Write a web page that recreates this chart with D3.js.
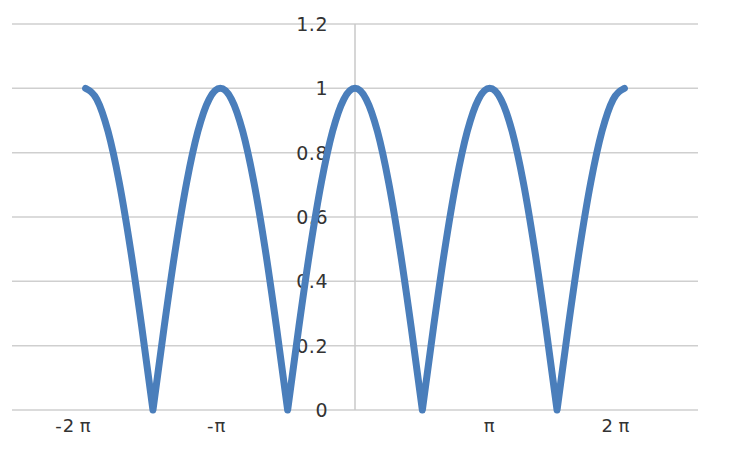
<!DOCTYPE html>
<html>
<head>
<meta charset="utf-8">
<script src="https://cdn.jsdelivr.net/npm/d3@7"></script>
<style>
  body { margin: 0; background: #fff; }
  text { font-family: "DejaVu Sans", sans-serif; fill: #333; }
</style>
</head>
<body>
<svg width="742" height="451"></svg>
<script>
// angle in degrees, every 15 degrees
var angles = [-360, -345, -330, -315, -300, -285, -270, -255, -240, -225, -210, -195,
              -180, -165, -150, -135, -120, -105, -90, -75, -60, -45, -30, -15,
              0, 15, 30, 45, 60, 75, 90, 105, 120, 135, 150, 165,
              180, 195, 210, 225, 240, 255, 270, 285, 300, 315, 330, 345, 360];
var values = [1, 0.966, 0.866, 0.707, 0.5, 0.259, 0, 0.259, 0.5, 0.707, 0.866, 0.966,
              1, 0.966, 0.866, 0.707, 0.5, 0.259, 0, 0.259, 0.5, 0.707, 0.866, 0.966,
              1, 0.966, 0.866, 0.707, 0.5, 0.259, 0, 0.259, 0.5, 0.707, 0.866, 0.966,
              1, 0.966, 0.866, 0.707, 0.5, 0.259, 0, 0.259, 0.5, 0.707, 0.866, 0.966, 1];
var yTicks = [0, 0.2, 0.4, 0.6, 0.8, 1, 1.2];
var xTickMultiples = [-2, -1, 1, 2];
var xTickLabels = ["-2\u2009\u03c0", "-\u03c0", "\u03c0", "2\u2009\u03c0"];

var svg = d3.select("svg");

var xScale = d3.scaleLinear()
    .domain([-8, 8])
    .range([12, 698]);

var yScale = d3.scaleLinear()
    .domain([0, 1.2])
    .range([410, 24]);

// horizontal gridlines
svg.append("g")
   .selectAll("line")
   .data(yTicks)
   .enter()
   .append("line")
   .attr("x1", xScale(-8))
   .attr("x2", xScale(8))
   .attr("y1", function(d) { return yScale(d); })
   .attr("y2", function(d) { return yScale(d); })
   .attr("stroke", "#cfcfcf")
   .attr("stroke-width", 1.5);

// vertical axis at x = 0
svg.append("line")
   .attr("x1", xScale(0))
   .attr("x2", xScale(0))
   .attr("y1", yScale(1.2))
   .attr("y2", yScale(0))
   .attr("stroke", "#c8c8c8")
   .attr("stroke-width", 1.5);

// y labels
svg.append("g")
   .selectAll("text")
   .data(yTicks)
   .enter()
   .append("text")
   .attr("x", xScale(0) - 27)
   .attr("y", function(d) { return yScale(d); })
   .attr("dy", "0.36em")
   .attr("text-anchor", "end")
   .attr("font-size", 19)
   .style("letter-spacing", "0.5px")
   .text(function(d) { return d; });

// x labels
svg.append("g")
   .selectAll("text")
   .data(xTickMultiples)
   .enter()
   .append("text")
   .attr("x", function(d) { return xScale(d * Math.PI) + 6; })
   .attr("y", 432)
   .attr("text-anchor", "end")
   .attr("font-size", 18)
   .style("letter-spacing", "1px")
   .text(function(d, i) { return xTickLabels[i]; });

// curve: smooth each arch between zeros, keep the cusps sharp
var points = angles.map(function(a, i) {
   return [a * Math.PI / 180, values[i]];
});

var arches = [];
var current = [];
points.forEach(function(p, i) {
   current.push(p);
   if (p[1] === 0 && i > 0 && i < points.length - 1) {
      arches.push(current);
      current = [p];
   }
});
arches.push(current);

var line = d3.line()
   .x(function(d) { return xScale(d[0]); })
   .y(function(d) { return yScale(d[1]); })
   .curve(d3.curveMonotoneX);

var pathData = arches.map(function(a, i) {
   var s = line(a);
   return i ? s.replace(/^M/, "L") : s;
}).join("");

svg.append("path")
   .attr("d", pathData)
   .attr("fill", "none")
   .attr("stroke", "#4a7ebb")
   .attr("stroke-width", 7)
   .attr("stroke-linejoin", "round")
   .attr("stroke-linecap", "round");
</script>
</body>
</html>
